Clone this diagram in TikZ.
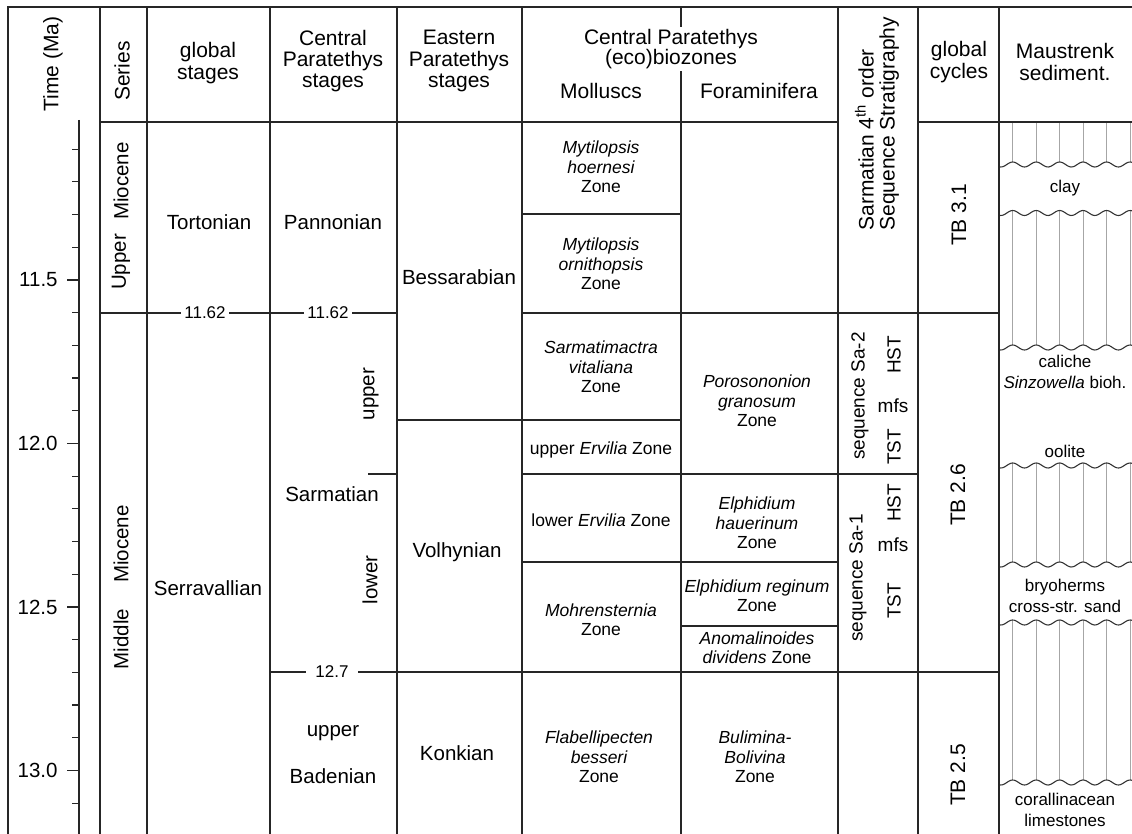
\documentclass[tikz,border=0pt]{standalone}
\usepackage{fontspec}
\setmainfont{Liberation Sans}
\begin{document}
\begin{tikzpicture}[x=0.5pt,y=-0.5pt,
  grid/.style={line width=0.7pt, draw=black!85},
  tickln/.style={line width=0.6pt, draw=black!85},
  hd/.style={font=\fontsize{10.5}{10.6}\selectfont, align=center, inner sep=0pt},
  hdr/.style={hd, rotate=90},
  stg/.style={font=\fontsize{10.25}{11}\selectfont, align=center, inner sep=0pt},
  stgr/.style={stg, rotate=90},
  zone/.style={font=\fontsize{8.75}{9.65}\selectfont, align=center, inner sep=0pt},
  num/.style={font=\fontsize{8.5}{10}\selectfont, fill=white, inner ysep=1pt, inner xsep=1.5pt},
  axl/.style={font=\fontsize{10.25}{11}\selectfont, anchor=east, inner sep=0pt},
  sed/.style={font=\fontsize{8.5}{10.2}\selectfont, align=center, inner sep=0pt},
  seq/.style={font=\fontsize{9.5}{10}\selectfont, inner sep=0pt},
  seqr/.style={seq, rotate=90},
  cyc/.style={font=\fontsize{10.5}{11}\selectfont, inner sep=0pt, rotate=90},
  pat/.style={line width=0.4pt, draw=black!35},
  wav/.style={line width=0.55pt, draw=black!80},
]
\useasboundingbox (0,0) rectangle (1132,834);

% ---------- Maustrenk pattern ----------
\foreach \a/\b in {122/162, 210.5/345, 463/562, 620/780}
  \foreach \px in {1012.7,1036.2,1059.6,1083.1,1106.5,1130}
    \draw[pat] (\px,\a) -- (\px,\b);
\foreach \w in {164.5,213,347.5,465.5,564.5,622.5,782.5}
  \draw[wav] plot[domain=999:1132, samples=90, smooth] (\x, {\w - 2.5*cos((\x-1012.7)/23.47*360)});

% ---------- grid ----------
\draw[grid] (8,834) -- (8,7) -- (1132,7);
\foreach \gx in {100,147,270,397,522,838,918,999}
  \draw[grid] (\gx,7) -- (\gx,834);
\draw[grid] (681,7) -- (681,834);
\draw[grid] (79,120) -- (79,834);
\draw[grid] (100,122) -- (838,122);
\draw[grid] (918,122) -- (1132,122);
\draw[grid] (100,313) -- (397,313);
\draw[grid] (522,313) -- (999,313);
\draw[grid] (522,214) -- (681,214);
\draw[grid] (397,420) -- (681,420);
\draw[grid] (522,474) -- (918,474);
\draw[grid] (368,474) -- (397,474);
\draw[grid] (522,562) -- (838,562);
\draw[grid] (681,626) -- (838,626);
\draw[grid] (270,672) -- (999,672);

% ---------- time axis ----------
\foreach \i in {1,...,21}
  \draw[tickln] (72,{116.5+32.7*\i}) -- (79,{116.5+32.7*\i});
\foreach \i/\lab in {5/11.5,10/12.0,15/12.5,20/13.0}{
  \draw[tickln] (67,{116.5+32.7*\i}) -- (79,{116.5+32.7*\i});
  \node[axl] (ax\i) at (58,{116.5+32.7*\i}) {\lab};
}

% ---------- header ----------
\node[hdr] (hTime) at (53,64) {Time (Ma)};
\node[hdr] (hSeries) at (122,71) {Series};
\node[hd] (hGlob) at (208,63) {global\\stages};
\node[hd] (hCP) at (333,61) {Central\\Paratethys\\stages};
\node[hd] (hEP) at (459,61) {Eastern\\Paratethys\\stages};
\node[hd, fill=white, inner sep=1pt] (hCPb) at (671,39) {Central Paratethys};
\node[hd, fill=white, inner sep=1pt] (hEco) at (671,59) {(eco)biozones};
\node[hd] (hMol) at (601,91) {Molluscs};
\node[hd] (hFor) at (759,91) {Foraminifera};
\node[hd, rotate=90, align=left, anchor=west] (hSeq) at (877,231)
  {Sarmatian 4\textsuperscript{th} order\\Sequence Stratigraphy};
\node[hd] (hCyc) at (959,62) {global\\cycles};
\node[hd] (hMau) at (1065,62) {Maustrenk\\sediment.};

% ---------- series ----------
\node[stgr] (sUp1) at (121,262) {Upper};
\node[stgr] (sUp2) at (121,181) {Miocene};
\node[stgr] (sMi1) at (121,639) {Middle};
\node[stgr] (sMi2) at (121,544) {Miocene};

% ---------- global stages ----------
\node[stg] (gTor) at (209,222) {Tortonian};
\node[stg] (gSer) at (208,588) {Serravallian};
\node[num] (n1162a) at (205,313) {11.62};

% ---------- Central Paratethys stages ----------
\node[stg] (cPan) at (333,222) {Pannonian};
\node[num] (n1162b) at (328,313) {11.62};
\node[stg] (cSar) at (332,494) {Sarmatian};
\node[stgr] (cUp) at (371,394) {upper};
\node[stgr] (cLo) at (370,580) {lower};
\node[num, inner xsep=4.5pt] (n127) at (332,672) {12.7};
\node[stg] (cUB1) at (333,733) {upper};
\node[stg] (cUB2) at (333,776) {Badenian};

% ---------- Eastern Paratethys stages ----------
\node[stg] (eBes) at (459,277) {Bessarabian};
\node[stg] (eVol) at (457,552) {Volhynian};
\node[stg] (eKon) at (457,753) {Konkian};

% ---------- Molluscs ----------
\node[zone] (m1) at (601,167) {{\itshape Mytilopsis}\\{\itshape hoernesi}\\Zone};
\node[zone] (m2) at (601,264) {{\itshape Mytilopsis}\\{\itshape ornithopsis}\\Zone};
\node[zone] (m3) at (601,367) {{\itshape Sarmatimactra}\\{\itshape vitaliana}\\Zone};
\node[zone] (m4) at (601,450) {upper {\itshape Ervilia} Zone};
\node[zone] (m5) at (601,520) {lower {\itshape Ervilia} Zone};
\node[zone] (m6) at (601,620) {{\itshape Mohrensternia}\\Zone};
\node[zone] (m7) at (599,757) {{\itshape Flabellipecten}\\{\itshape besseri}\\Zone};

% ---------- Foraminifera ----------
\node[zone] (f1) at (757,401) {{\itshape Porosononion}\\{\itshape granosum}\\Zone};
\node[zone] (f2) at (757,523) {{\itshape Elphidium}\\{\itshape hauerinum}\\Zone};
\node[zone] (f3) at (757,596) {{\itshape Elphidium reginum}\\Zone};
\node[zone] (f4) at (757,648) {{\itshape Anomalinoides}\\{\itshape dividens} Zone};
\node[zone] (f5) at (755,757) {{\itshape Bulimina-}\\{\itshape Bolivina}\\Zone};

% ---------- sequences ----------
\node[seqr] (q2) at (860,396) {sequence Sa-2};
\node[seqr] (q2h) at (894,355) {HST};
\node[seq] (q2m) at (893,406) {mfs};
\node[seqr] (q2t) at (894,447) {TST};
\node[seqr] (q1) at (858,578) {sequence Sa-1};
\node[seqr] (q1h) at (894,503) {HST};
\node[seq] (q1m) at (893,545) {mfs};
\node[seqr] (q1t) at (894,601) {TST};

% ---------- global cycles ----------
\node[cyc] (tb31) at (959,215) {TB 3.1};
\node[cyc] (tb26) at (958,495) {TB 2.6};
\node[cyc] (tb25) at (958,775) {TB 2.5};

% ---------- sediments ----------
\node[sed] (d1) at (1065,188) {clay};
\node[sed] (d2) at (1065,372) {caliche\\{\itshape Sinzowella} bioh.};
\node[sed] (d3) at (1065,451) {oolite};
\node[sed] (d4) at (1065,596) {bryoherms\\cross-str. sand};
\node[sed] (d5) at (1065,810) {corallinacean\\limestones};
\end{tikzpicture}
\end{document}
